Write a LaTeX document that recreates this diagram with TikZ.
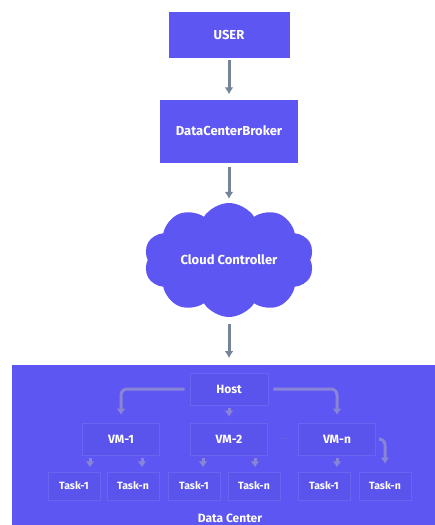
\documentclass[tikz,border=0pt]{standalone}
\usepackage{fontspec}
\setmainfont{Fira Sans}
\usepackage{tikz}
\usetikzlibrary{shapes.symbols}
\usetikzlibrary{arrows.meta}
\tikzset{>=latex}
\definecolor{mainblue}{HTML}{5D56F2}
\definecolor{innerblue}{HTML}{5A54EC}
\definecolor{edgeblue}{HTML}{6A65F0}
\definecolor{arrowgrey}{HTML}{76849A}
\definecolor{innerarrow}{HTML}{8985D6}
\tikzset{block/.style = {fill=mainblue,text=white,font=\fontsize{13}{15}\selectfont\bfseries,inner sep=0pt}}
\tikzset{innerbox/.style = {fill=innerblue,draw=edgeblue,line width=0.6pt,text=white,font=\fontsize{12}{14}\selectfont\bfseries,inner sep=0pt}}
\tikzset{taskbox/.style = {innerbox,font=\fontsize{10.5}{12}\selectfont\bfseries,minimum width=52pt,minimum height=28pt}}
\tikzset{flow/.style = {arrowgrey,line width=3pt,-{Latex[length=7pt,width=9pt]}}}
\tikzset{subflow/.style = {innerarrow,line width=3pt,-{Latex[length=6pt,width=9pt]},rounded corners=6pt}}

\begin{document}
\begin{tikzpicture}[x=1pt,y=-1pt]
                    \useasboundingbox (0,0) rectangle (435,525);
                    \fill[white] (0,0) rectangle (435,525);

                    \node[block,minimum width=121pt,minimum height=46pt] (user) at (229,35) {USER};
                    \node[block,minimum width=138pt,minimum height=63pt] (broker) at (229,131) {DataCenterBroker};
                    \node[block,cloud,cloud puffs=10,cloud puff arc=115,aspect=1.5,minimum width=170pt,minimum height=114pt] (ctrl) at (229,260) {Cloud Controller};
                    \node[block,anchor=north west,minimum width=423pt,minimum height=160pt] (dc) at (12,365) {};

                    \node[innerbox,minimum width=78pt,minimum height=32pt] (host) at (229,389) {Host};
                    \node[innerbox,minimum width=77pt,minimum height=32pt] (vm1) at (121,439) {VM-1};
                    \node[innerbox,minimum width=77pt,minimum height=32pt] (vm2) at (229,439) {VM-2};
                    \node[innerbox,minimum width=77pt,minimum height=32pt] (vmn) at (337,439) {VM-n};
                    \node[text=innerarrow,font=\tiny] (dots) at (283,439) {.\,.\,.\,.\,.};

                    \node[taskbox] (t11) at (74,486) {Task-1};
                    \node[taskbox] (t1n) at (133,486) {Task-n};
                    \node[taskbox] (t21) at (194,486) {Task-1};
                    \node[taskbox] (t2n) at (254,486) {Task-n};
                    \node[taskbox] (tn1) at (324,486) {Task-1};
                    \node[taskbox] (tnn) at (385,486) {Task-n};

                    \node[text=white,font=\fontsize{12}{14}\selectfont\bfseries] (dclabel) at (230,518) {Data Center};

                    \draw[flow] ([yshift=-2pt]user.south) -- ([yshift=5pt]broker.north);
                    \draw[flow] ([yshift=-4pt]broker.south) -- ([yshift=4pt]ctrl.north);
                    \draw[flow] ([yshift=-7pt]ctrl.center |- ctrl.south) -- ([yshift=7pt]ctrl.center |- dc.north);

                    \draw[subflow] ([xshift=-5pt]host.west) -| ([yshift=8pt]vm1.north);
                    \draw[subflow] ([xshift=5pt]host.east) -| ([yshift=8pt]vmn.north);
                    \draw[subflow] ([yshift=-3pt]host.south) -- ([yshift=6pt]vm2.north);
                    \draw[subflow] ([xshift=3pt]vmn.east) -| ([yshift=8pt]tnn.north);

                    \draw[subflow] ([xshift=-31pt,yshift=-3pt]vm1.south) -- ++(0,9);
                    \draw[subflow] ([xshift=21pt,yshift=-3pt]vm1.south) -- ++(0,9);
                    \draw[subflow] ([xshift=-26pt,yshift=-3pt]vm2.south) -- ++(0,9);
                    \draw[subflow] ([xshift=26pt,yshift=-3pt]vm2.south) -- ++(0,9);
                    \draw[subflow] ([yshift=-3pt]vmn.south) -- ++(0,9);
                \end{tikzpicture}
\end{document}
